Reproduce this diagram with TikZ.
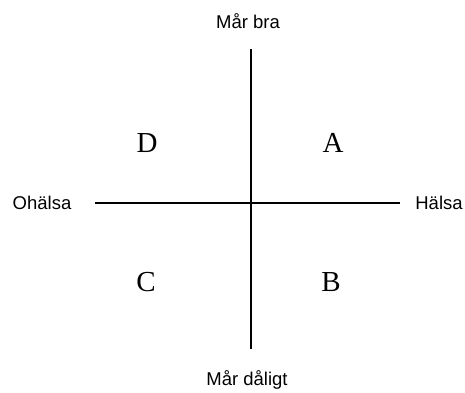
\documentclass[tikz,border=0pt]{standalone}
\usepackage{fontspec}
\setmainfont{Liberation Serif}
\newfontfamily\arialfont{Liberation Sans}
\begin{document}
\begin{tikzpicture}[x=1pt,y=1pt,
  axislabel/.style={font=\arialfont\fontsize{18.5}{21}\selectfont, inner sep=0pt},
  quad/.style={font=\fontsize{29}{32}\selectfont, inner sep=0pt},
  axisline/.style={line width=1.1pt}]
\useasboundingbox (0,0) rectangle (465,392);
\coordinate (top) at (251,343);
\coordinate (bot) at (251,43);
\coordinate (left) at (95,189);
\coordinate (right) at (400,189);
\draw[axisline] (top) -- (bot);
\draw[axisline] (left) -- (right);
\node[axislabel] (mb) at (248,371) {Mår bra};
\node[axislabel] (md) at (247,12) {Mår dåligt};
\node[axislabel] (oh) at (42,189) {Ohälsa};
\node[axislabel] (ha) at (439,189) {Hälsa};
\node[quad] (D) at (147,249) {D};
\node[quad] (A) at (333,249) {A};
\node[quad] (C) at (146,110) {C};
\node[quad] (B) at (331,110) {B};
\end{tikzpicture}
\end{document}
